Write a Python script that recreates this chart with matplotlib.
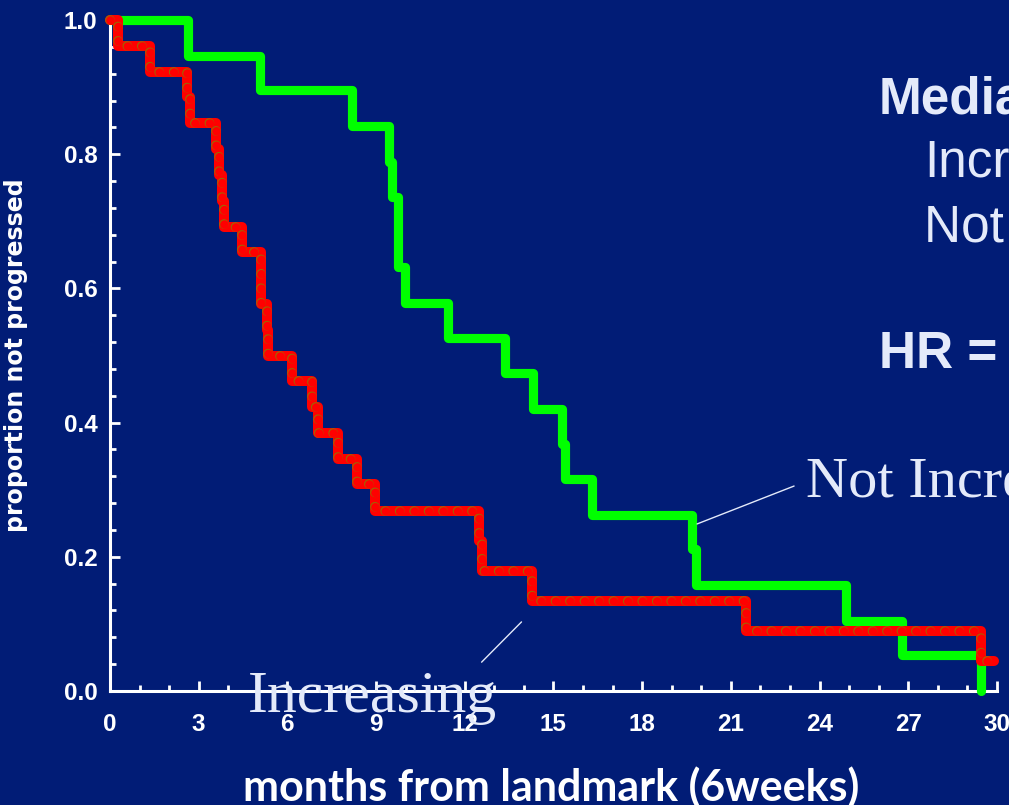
import matplotlib
matplotlib.use('Agg')
import matplotlib.pyplot as plt
from matplotlib.ticker import MultipleLocator, FormatStrFormatter

plt.rcParams['lines.scale_dashes'] = False

BG = '#011C76'
TXT = '#E4EAFA'

# Kaplan-Meier estimates: months from landmark and proportion not progressed
inc_months = [0, 0.27, 1.35, 2.6, 2.7, 3.6, 3.68, 3.78, 3.85, 4.45, 5.1, 5.12, 5.3, 5.35,
              6.15, 6.82, 7.03, 7.7, 8.35, 8.95, 12.47, 12.6, 14.26, 21.5, 29.45, 29.9]
inc_surv = [1.0, 0.962, 0.923, 0.885, 0.846, 0.808, 0.769, 0.731, 0.692, 0.654, 0.615, 0.577, 0.538, 0.5,
            0.462, 0.423, 0.385, 0.346, 0.308, 0.269, 0.224, 0.179, 0.134, 0.089, 0.045, 0.045]

notinc_months = [0, 2.65, 5.07, 8.2, 9.43, 9.53, 9.73, 9.97, 11.42, 13.35, 14.3, 15.3, 15.4,
                 16.3, 19.7, 19.83, 24.9, 26.8, 29.45]
notinc_surv = [1.0, 0.947, 0.895, 0.842, 0.789, 0.737, 0.632, 0.579, 0.526, 0.474, 0.421, 0.368, 0.316,
               0.263, 0.211, 0.158, 0.105, 0.053, 0.0]

fig = plt.figure(figsize=(10.09, 8.05), dpi=100, facecolor=BG)
ax = fig.add_axes([0.109, 0.1416, 0.879, 0.8335], facecolor=BG)

ax.step(notinc_months, notinc_surv, where='post', color='#00FF00', lw=6.6,
        solid_joinstyle='round', solid_capstyle='round', clip_on=False, zorder=3)

# red curve: solid base plus a row of faintly ringed dots along it
ax.step(inc_months, inc_surv, where='post', color='#FF0000', lw=7.2,
        solid_joinstyle='round', solid_capstyle='round', clip_on=False, zorder=4)
ax.step(inc_months, inc_surv, where='post', color='#9A6A00', lw=7.0,
        linestyle=(0, (0.01, 10.4)), dash_capstyle='round', clip_on=False, zorder=5)
ax.step(inc_months, inc_surv, where='post', color='#FF0000', lw=6.3,
        linestyle=(0, (0.01, 10.4)), dash_capstyle='round', clip_on=False, zorder=6)

ax.set_xlim(0, 30)
ax.set_ylim(0, 1)
ax.xaxis.set_major_locator(MultipleLocator(3))
ax.xaxis.set_minor_locator(MultipleLocator(1))
ax.yaxis.set_major_locator(MultipleLocator(0.2))
ax.yaxis.set_minor_locator(MultipleLocator(0.04))
ax.yaxis.set_major_formatter(FormatStrFormatter('%.1f'))

for s in ['top', 'right']:
    ax.spines[s].set_visible(False)
for s in ['left', 'bottom']:
    ax.spines[s].set_color('white')
    ax.spines[s].set_linewidth(2.2)

ax.tick_params(which='both', direction='in', color='white', width=2)
ax.tick_params(which='major', length=7.5)
ax.tick_params(which='minor', length=4)
ax.tick_params(axis='x', which='major', pad=16)
ax.tick_params(axis='y', which='major', pad=9)
for lab in ax.get_xticklabels() + ax.get_yticklabels():
    lab.set_fontfamily('Liberation Sans')
    lab.set_fontweight('bold')
    lab.set_fontsize(17.5)
    lab.set_color('white')

ax.set_ylabel('proportion not progressed', family='DejaVu Sans', weight='bold', size=17, color='white')
ax.yaxis.set_label_coords(-0.092, 0.5)
ax.set_xlabel('months from landmark (6weeks)', family='Lato', weight='bold', size=31, color='white')
ax.xaxis.set_label_coords(0.498, -0.113)

# curve labels with leader lines
ax.annotate('', xy=(19.86, 0.249), xytext=(23.14, 0.3055),
            arrowprops=dict(arrowstyle='-', color=TXT, lw=1, shrinkA=0, shrinkB=0))
ax.annotate('', xy=(13.92, 0.103), xytext=(12.57, 0.043),
            arrowprops=dict(arrowstyle='-', color=TXT, lw=1, shrinkA=0, shrinkB=0))
ax.text(23.55, 0.289, 'Not Increasing', family='Liberation Serif', size=42, color=TXT,
        va='baseline', zorder=10)
ax.text(4.68, -0.031, 'Increasing', family='Liberation Serif', size=43, color=TXT,
        va='baseline', zorder=10)

# summary text at the right
fig.text(0.871, 0.8596, 'Median', family='Liberation Sans', weight='bold', size=37, color=TXT, va='baseline')
fig.text(0.9158, 0.780, 'Increasing', family='Liberation Sans', size=37, color=TXT, va='baseline')
fig.text(0.9158, 0.6994, 'Not increasing', family='Liberation Sans', size=37, color=TXT, va='baseline')
fig.text(0.871, 0.5429, 'HR =', family='Liberation Sans', weight='bold', size=37, color=TXT, va='baseline')

fig.savefig('out.png', dpi=100, facecolor=BG)
